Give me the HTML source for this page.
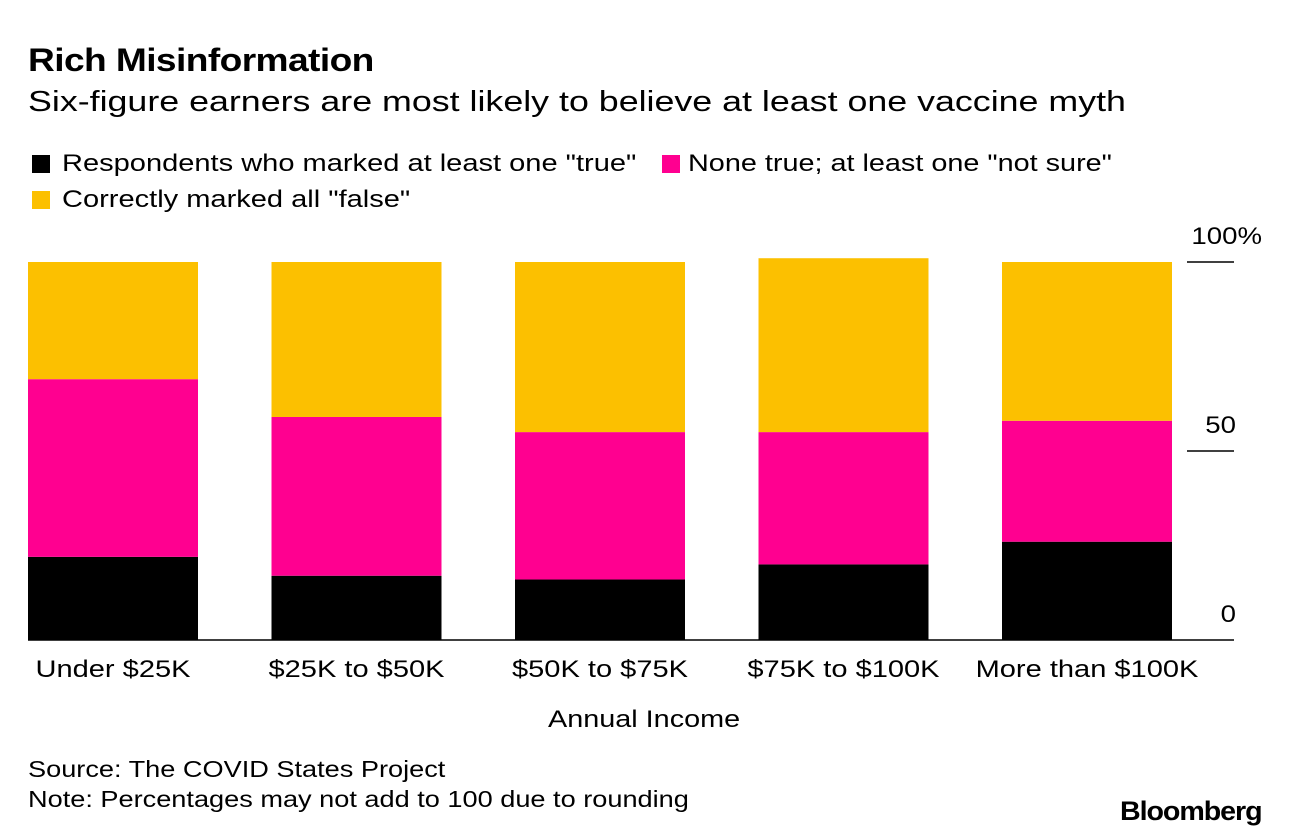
<!DOCTYPE html>
<html><head><meta charset="utf-8"><style>
body{margin:0;background:#fff;font-family:"Liberation Sans",sans-serif;}
#wrap{position:relative;width:1289px;height:838px;overflow:hidden;}
.t{position:absolute;white-space:nowrap;color:#000;transform-origin:0 0;}
.sw{position:absolute;width:18px;height:18px;}
</style></head><body>
<div id="wrap">
<div class="t" style="left:28px;top:42px;font-size:32px;font-weight:bold;letter-spacing:-0.5px;transform:scaleX(1.16)">Rich Misinformation</div>
<div class="t" style="left:28px;top:86px;font-size:29px;transform:scaleX(1.234)">Six-figure earners are most likely to believe at least one vaccine myth</div>
<div class="sw" style="left:32px;top:155px;background:#000"></div>
<div class="t" style="left:62px;top:150px;font-size:24px;transform:scaleX(1.21)">Respondents who marked at least one "true"</div>
<div class="sw" style="left:662px;top:155px;background:#ff0090"></div>
<div class="t" style="left:688px;top:150px;font-size:24px;transform:scaleX(1.2)">None true; at least one "not sure"</div>
<div class="sw" style="left:32px;top:191px;background:#fcc000"></div>
<div class="t" style="left:62px;top:186px;font-size:24px;transform:scaleX(1.21)">Correctly marked all "false"</div>
<svg id="chart" width="1289" height="838" style="position:absolute;left:0;top:0"></svg>
<div class="t" style="left:548px;top:706px;font-size:24px;transform:scaleX(1.2)">Annual Income</div>
<div class="t" style="left:28px;top:756px;font-size:23px;transform:scaleX(1.18)">Source: The COVID States Project</div>
<div class="t" style="left:28px;top:786px;font-size:23px;transform:scaleX(1.18)">Note: Percentages may not add to 100 due to rounding</div>
<div class="t" style="left:1120px;top:796px;font-size:27px;font-weight:bold;letter-spacing:-1px;transform:scaleX(1.06)">Bloomberg</div>
</div>
<script>
const categories=["Under $25K","$25K to $50K","$50K to $75K","$75K to $100K","More than $100K"];
const trueVals=[22,17,16,20,26];
const notSureVals=[47,42,39,35,32];
const falseVals=[31,41,45,46,42];
const tickVals=[0,50,100];
const tickLabels=["0","50","100%"];
const svg=document.getElementById('chart');
const NS="http://www.w3.org/2000/svg";
const y0=640,y100=262;
const y=v=>y0-(y0-y100)*v/100;
const bx=i=>28+i*243.5, bw=170;
function mk(tag,attrs){const e=document.createElementNS(NS,tag);for(const k in attrs)e.setAttribute(k,attrs[k]);svg.appendChild(e);return e;}
function stretch(t,f){const w=t.getComputedTextLength();t.setAttribute('textLength',w*f);t.setAttribute('lengthAdjust','spacingAndGlyphs');}
const series=[[trueVals,"#000","true"],[notSureVals,"#ff0090","not-sure"],[falseVals,"#fcc000","false"]];
categories.forEach((c,i)=>{
  let acc=0;
  series.forEach(([arr,col,nm])=>{
    const v=arr[i];
    const r=mk('rect',{x:bx(i),y:y(acc+v),width:bw,height:y(acc)-y(acc+v),fill:col});
    
    
    acc+=v;
  });
  const t=mk('text',{x:bx(i)+bw/2,y:677,'text-anchor':'middle','font-size':24,'font-family':'Liberation Sans, sans-serif'});
  t.textContent=c;
  
  
  stretch(t,1.21);
});
tickVals.forEach((v,i)=>{
  if(v>0){const l=mk('line',{x1:1187,x2:1234,y1:y(v),y2:y(v),stroke:'#000','stroke-width':1.5});
  
  }
  const t=mk('text',{x:v===100?1262:1236,y:y(v)-18,'text-anchor':'end','font-size':24,'font-family':'Liberation Sans, sans-serif'});
  t.textContent=tickLabels[i];
  
  
  stretch(t,1.15);
});
const base=mk('line',{x1:28,x2:1234,y1:y0,y2:y0,stroke:'#000','stroke-width':1.5});


</script>
</body></html>
